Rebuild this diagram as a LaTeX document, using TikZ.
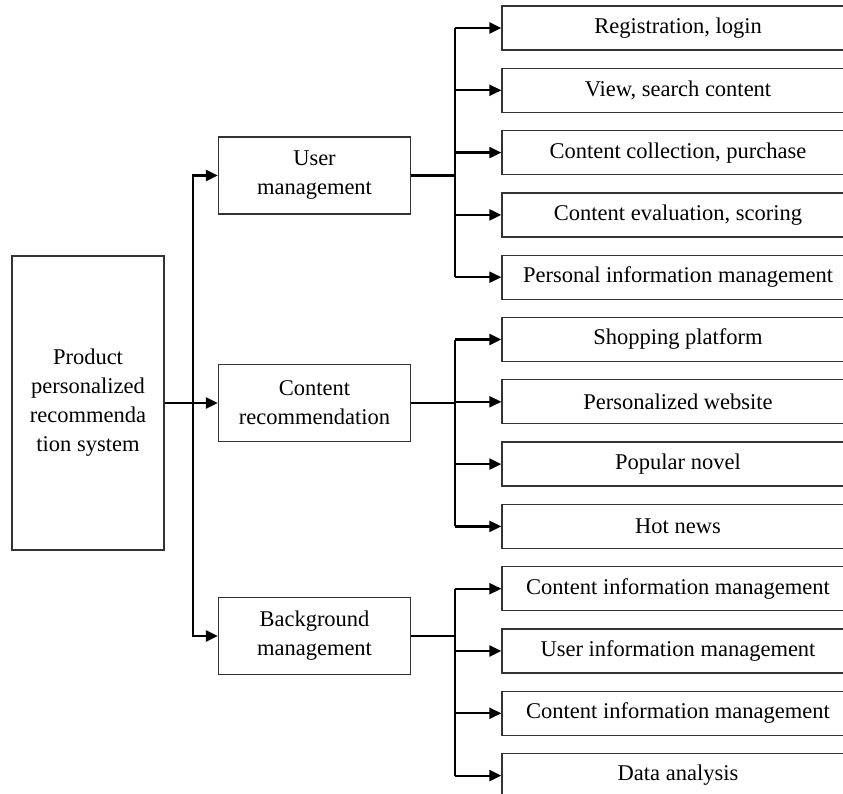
\documentclass[tikz,border=0pt]{standalone}
\usepackage{fontspec}
\setmainfont{Liberation Serif}
\usetikzlibrary{arrows.meta}

\begin{document}
\begin{tikzpicture}[
        x=1pt, y=-1pt,
        every node/.style={
            font=\fontsize{22.5}{29}\selectfont,
            draw=black!80,
            line width=1.3pt,
            align=center,
            inner sep=0pt},
        mainbox/.style={minimum width=192pt, minimum height=77pt},
        leafbox/.style={minimum width=352pt, minimum height=44pt},
        link/.style={line width=2.2pt},
        arrow/.style={link, -{Triangle[length=12pt,width=11pt]}}]
        \useasboundingbox (0,0) rectangle (843,794);
        \clip (0,0) rectangle (843,794);

        \node[minimum width=152pt, minimum height=294pt] (root) at (88,403)
            {Product\\personalized\\recommenda\\tion system};

        \node[mainbox] (user) at (314.5,175.5) {User\\management};
        \node[mainbox] (cont) at (314.5,403) {Content\\recommendation};
        \node[mainbox] (back) at (314.5,636) {Background\\management};

        % leaves
        \foreach \i/\y/\t in {
                1/28/{Registration, login},
                2/90.3/{View, search content},
                3/152.6/{Content collection, purchase},
                4/214.9/{Content evaluation, scoring},
                5/277.2/{Personal information management},
                6/339.5/{Shopping platform},
                7/401.8/{Personalized website},
                8/464.1/{Popular novel},
                9/526.4/{Hot news},
                10/588.7/{Content information management},
                11/651/{User information management},
                12/713.3/{Content information management},
                13/775.6/{Data analysis}}
            \node[leafbox] (leaf\i) at (678,\y) {\t};

        % root to modules
        \draw[arrow] (root.east) -- (cont.west);
        \draw[arrow] ([xshift=28pt]root.east) |- (user.west);
        \draw[arrow] ([xshift=28pt]root.east) |- (back.west);

        % modules to leaves
        \coordinate (uj) at ([xshift=-46pt]user.east -| leaf1.west);
        \draw[link] (user.east) -- (uj);
        \draw[link] (uj |- leaf1.west) -- (uj |- leaf5.west);
        \foreach \i in {1,...,5}
            \draw[arrow] (uj |- leaf\i.west) -- (leaf\i.west);

        \coordinate (cj) at ([xshift=-46pt]cont.east -| leaf6.west);
        \draw[link] (cont.east) -- (cj);
        \draw[link] (cj |- leaf6.west) -- (cj |- leaf9.west);
        \foreach \i in {6,...,9}
            \draw[arrow] (cj |- leaf\i.west) -- (leaf\i.west);

        \coordinate (bj) at ([xshift=-46pt]back.east -| leaf10.west);
        \draw[link] (back.east) -- (bj);
        \draw[link] (bj |- leaf10.west) -- (bj |- leaf13.west);
        \foreach \i in {10,...,13}
            \draw[arrow] (bj |- leaf\i.west) -- (leaf\i.west);
    \end{tikzpicture}
\end{document}
